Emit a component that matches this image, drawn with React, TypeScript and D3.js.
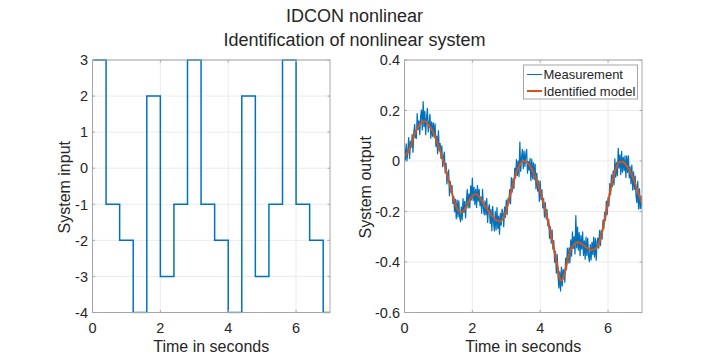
import React from "react";
import * as d3 from "d3";

const titleLines = ["IDCON nonlinear", "Identification of nonlinear system"];
const xLabel = "Time in seconds";
const leftYLabel = "System input";
const rightYLabel = "System output";
const legendLabels = ["Measurement", "Identified model"];

const xTicks = [0, 2, 4, 6];
const leftYTicks = [-4, -3, -2, -1, 0, 1, 2, 3];
const rightYTicks = [-0.6, -0.4, -0.2, 0, 0.2, 0.4];
const rightYTickLabels = ["-0.6", "-0.4", "-0.2", "0", "0.2", "0.4"];

// step input: switch times and levels
const inputTimes = [0, 0.4, 0.8, 1.2, 1.6, 2.0, 2.4, 2.8, 3.2, 3.6, 4.0, 4.4, 4.8, 5.2, 5.6, 6.0, 6.4, 6.8, 7.0];
const inputValues = [3, -1, -2, -4, 2, -3, -1, 3, -1, -2, -4, 2, -3, -1, 3, -1, -2, -4, -4];

// identified model output, sampled every 0.1 s
const modelStep = 0.1;
const modelValues = [
  0.02, 0.035, 0.065, 0.105, 0.135, 0.152, 0.157, 0.145, 0.125, 0.097,
  0.06, 0.02, -0.027, -0.075, -0.127, -0.172, -0.198, -0.203, -0.185, -0.16,
  -0.138, -0.131, -0.142, -0.162, -0.183, -0.203, -0.22, -0.233, -0.24, -0.228,
  -0.195, -0.143, -0.09, -0.045, -0.014, 0.0, -0.004, -0.02, -0.046, -0.078,
  -0.12, -0.168, -0.222, -0.28, -0.345, -0.41, -0.475, -0.455, -0.395, -0.352,
  -0.33, -0.322, -0.326, -0.336, -0.346, -0.352, -0.35, -0.335, -0.295, -0.232,
  -0.165, -0.095, -0.042, -0.01, -0.002, -0.01, -0.03, -0.056, -0.09, -0.13,
  -0.168,
];

// measured output, sampled every 0.025 s
const measStep = 0.025;
const measValues = [
  0.05, 0.004, 0.068, 0.001, 0.045, 0.093, 0.01, 0.078,
  0.055, 0.105, 0.035, 0.115, 0.145, 0.093, 0.09, 0.188,
  0.125, 0.159, 0.104, 0.178, 0.202, 0.123, 0.235, 0.136,
  0.197, 0.104, 0.171, 0.208, 0.115, 0.15, 0.185, 0.09,
  0.155, 0.098, 0.151, 0.094, 0.147, 0.058, 0.099, 0.029,
  0.12, 0.04, 0.07, 0.01, 0.06, -0.022, 0.016, 0.035,
  -0.047, -0.009, -0.091, -0.053, -0.035, -0.138, -0.081, -0.124,
  -0.097, -0.168, -0.14, -0.201, -0.152, -0.229, -0.155, -0.222,
  -0.158, -0.219, -0.24, -0.182, -0.233, -0.149, -0.204, -0.16,
  -0.225, -0.159, -0.113, -0.186, -0.13, -0.185, -0.099, -0.154,
  -0.068, -0.156, -0.104, -0.173, -0.111, -0.184, -0.097, -0.159,
  -0.112, -0.177, -0.142, -0.207, -0.112, -0.187, -0.213, -0.158,
  -0.213, -0.148, -0.243, -0.188, -0.173, -0.247, -0.192, -0.276,
  -0.18, -0.243, -0.277, -0.2, -0.273, -0.185, -0.267, -0.218,
  -0.29, -0.207, -0.254, -0.191, -0.208, -0.26, -0.182, -0.223,
  -0.155, -0.212, -0.149, -0.166, -0.113, -0.17, -0.066, -0.123,
  -0.07, -0.109, -0.028, -0.066, 0.005, -0.057, 0.0, -0.062,
  0.075, -0.041, 0.013, 0.046, -0.03, 0.039, -0.022, 0.027,
  0.046, -0.048, -0.002, -0.036, 0.01, -0.077, 0.007, -0.07,
  -0.006, -0.074, -0.012, -0.11, -0.048, -0.119, -0.079, -0.16,
  -0.08, -0.152, -0.114, -0.186, -0.148, -0.222, -0.165, -0.229,
  -0.192, -0.257, -0.231, -0.306, -0.26, -0.326, -0.273, -0.349,
  -0.315, -0.401, -0.358, -0.444, -0.37, -0.456, -0.503, -0.439,
  -0.515, -0.42, -0.495, -0.43, -0.435, -0.48, -0.385, -0.43,
  -0.345, -0.404, -0.344, -0.403, -0.312, -0.377, -0.281, -0.346,
  -0.3, -0.368, -0.216, -0.344, -0.262, -0.353, -0.284, -0.375,
  -0.296, -0.349, -0.281, -0.374, -0.316, -0.389, -0.301, -0.374,
  -0.306, -0.378, -0.399, -0.331, -0.392, -0.322, -0.371, -0.301,
  -0.38, -0.306, -0.393, -0.319, -0.305, -0.345, -0.275, -0.335,
  -0.275, -0.309, -0.234, -0.268, -0.202, -0.235, -0.159, -0.212,
  -0.145, -0.178, -0.09, -0.133, -0.055, -0.102, -0.039, -0.095,
  0.008, -0.064, -0.006, -0.058, 0.05, -0.028, 0.024, -0.054,
  0.038, -0.044, 0.014, -0.038, 0.02, -0.065, 0.02, -0.045,
  0.02, -0.067, -0.023, -0.09, -0.016, -0.115, -0.043, -0.112,
  -0.06, -0.14, -0.165, -0.08, -0.19, -0.11, -0.189, -0.139,
  -0.188,
];

const W = 709;
const H = 356;
const FONT = "'Liberation Sans', Arial, Helvetica, sans-serif";
const TEXT = "#262626";
const AXIS = "#a6a6a6";
const GRID = "#ebebeb";
const BLUE = "#0072BD";
const ORANGE = "#D95319";

const top = 60;
const bottom = 312.5;
const leftPanel = { x0: 92.5, x1: 330 };
const rightPanel = { x0: 404.5, x1: 642 };

function Axes({ x0, x1, yScale, xScale, yTicks, yLabels, yLabel, labelX, id, children }: any) {
  const tickLen = 2.5;
  return (
    <g>
      <rect x={x0} y={top} width={x1 - x0} height={bottom - top} fill="#fff" />
      {xTicks.map((t) => (
        <line key={"gx" + t} x1={xScale(t)} x2={xScale(t)} y1={top} y2={bottom} stroke={GRID} strokeWidth={1} />
      ))}
      {yTicks.map((t: number) => (
        <line key={"gy" + t} x1={x0} x2={x1} y1={yScale(t)} y2={yScale(t)} stroke={GRID} strokeWidth={1} />
      ))}
      <defs>
        <clipPath id={id}>
          <rect x={x0} y={top - 1} width={x1 - x0} height={bottom - top + 2} />
        </clipPath>
      </defs>
      <g clipPath={`url(#${id})`}>{children}</g>
      <rect x={x0} y={top} width={x1 - x0} height={bottom - top} fill="none" stroke={AXIS} strokeWidth={1} />
      {xTicks.map((t) => (
        <g key={"tx" + t}>
          <line x1={xScale(t)} x2={xScale(t)} y1={bottom} y2={bottom - tickLen} stroke={AXIS} />
          <line x1={xScale(t)} x2={xScale(t)} y1={top} y2={top + tickLen} stroke={AXIS} />
          <text x={xScale(t)} y={333} textAnchor="middle" fontSize={14.5} fill={TEXT} fontFamily={FONT}>
            {String(t)}
          </text>
        </g>
      ))}
      {yTicks.map((t: number, i: number) => (
        <g key={"ty" + t}>
          <line x1={x0} x2={x0 + tickLen} y1={yScale(t)} y2={yScale(t)} stroke={AXIS} />
          <line x1={x1} x2={x1 - tickLen} y1={yScale(t)} y2={yScale(t)} stroke={AXIS} />
          <text x={x0 - 4.5} y={yScale(t)} dy="0.36em" textAnchor="end" fontSize={14.5} fill={TEXT} fontFamily={FONT}>
            {yLabels[i]}
          </text>
        </g>
      ))}
      <text x={(x0 + x1) / 2} y={352} textAnchor="middle" fontSize={16} fill={TEXT} fontFamily={FONT}>
        {xLabel}
      </text>
      <text
        transform={`translate(${labelX},${(top + bottom) / 2 + 1}) rotate(-90)`}
        textAnchor="middle"
        fontSize={16}
        fill={TEXT}
        fontFamily={FONT}
      >
        {yLabel}
      </text>
    </g>
  );
}

export default function App() {
  const xL = d3.scaleLinear().domain([0, 7]).range([leftPanel.x0, leftPanel.x1]);
  const xR = d3.scaleLinear().domain([0, 7]).range([rightPanel.x0, rightPanel.x1]);
  const yL = d3.scaleLinear().domain([-4, 3]).range([bottom, top]);
  const yR = d3.scaleLinear().domain([-0.6, 0.4]).range([bottom, top]);

  const stepLine = d3
    .line<number>()
    .x((_, i) => xL(inputTimes[i]))
    .y((v) => yL(v))
    .curve(d3.curveStepAfter);

  const measLine = d3
    .line<number>()
    .x((_, i) => xR(i * measStep))
    .y((v) => yR(v));

  const modelLine = d3
    .line<number>()
    .x((_, i) => xR(i * modelStep))
    .y((v) => yR(v))
    .curve(d3.curveMonotoneX);

  const lg = { x: 523.5, y: 65, w: 114, h: 34 };

  return (
    <svg
      width={W}
      height={H}
      style={{ position: "absolute", left: 0, top: 0, background: "#fff" }}
      xmlns="http://www.w3.org/2000/svg"
    >
      <rect width={W} height={H} fill="#fff" />
      {titleLines.map((s, i) => (
        <text key={i} x={W / 2} y={21.5 + i * 24.3} textAnchor="middle" fontSize={18} fill={TEXT} fontFamily={FONT}>
          {s}
        </text>
      ))}
      <Axes
        id="clipL"
        x0={leftPanel.x0}
        x1={leftPanel.x1}
        xScale={xL}
        yScale={yL}
        yTicks={leftYTicks}
        yLabels={leftYTicks.map(String)}
        yLabel={leftYLabel}
        labelX={69.5}
      >
        <path d={stepLine(inputValues) || ""} fill="none" stroke={BLUE} strokeWidth={1.5} />
      </Axes>
      <Axes
        id="clipR"
        x0={rightPanel.x0}
        x1={rightPanel.x1}
        xScale={xR}
        yScale={yR}
        yTicks={rightYTicks}
        yLabels={rightYTickLabels}
        yLabel={rightYLabel}
        labelX={370.5}
      >
        <path d={measLine(measValues) || ""} fill="none" stroke={BLUE} strokeWidth={1.25} strokeLinejoin="round" />
        <path d={modelLine(modelValues) || ""} fill="none" stroke={ORANGE} strokeWidth={2} />
      </Axes>
      <g>
        <rect x={lg.x} y={lg.y} width={lg.w} height={lg.h} fill="#fff" stroke={AXIS} strokeWidth={1} />
        {legendLabels.map((s, i) => {
          const cy = lg.y + 9.5 + i * 16.5;
          return (
            <g key={s}>
              <line x1={lg.x + 3.5} x2={lg.x + 18.5} y1={cy} y2={cy} stroke={i === 0 ? BLUE : ORANGE} strokeWidth={i === 0 ? 1 : 2} />
              <text x={lg.x + 20} y={cy} dy="0.36em" fontSize={13} fill={TEXT} fontFamily={FONT}>
                {s}
              </text>
            </g>
          );
        })}
      </g>
    </svg>
  );
}
